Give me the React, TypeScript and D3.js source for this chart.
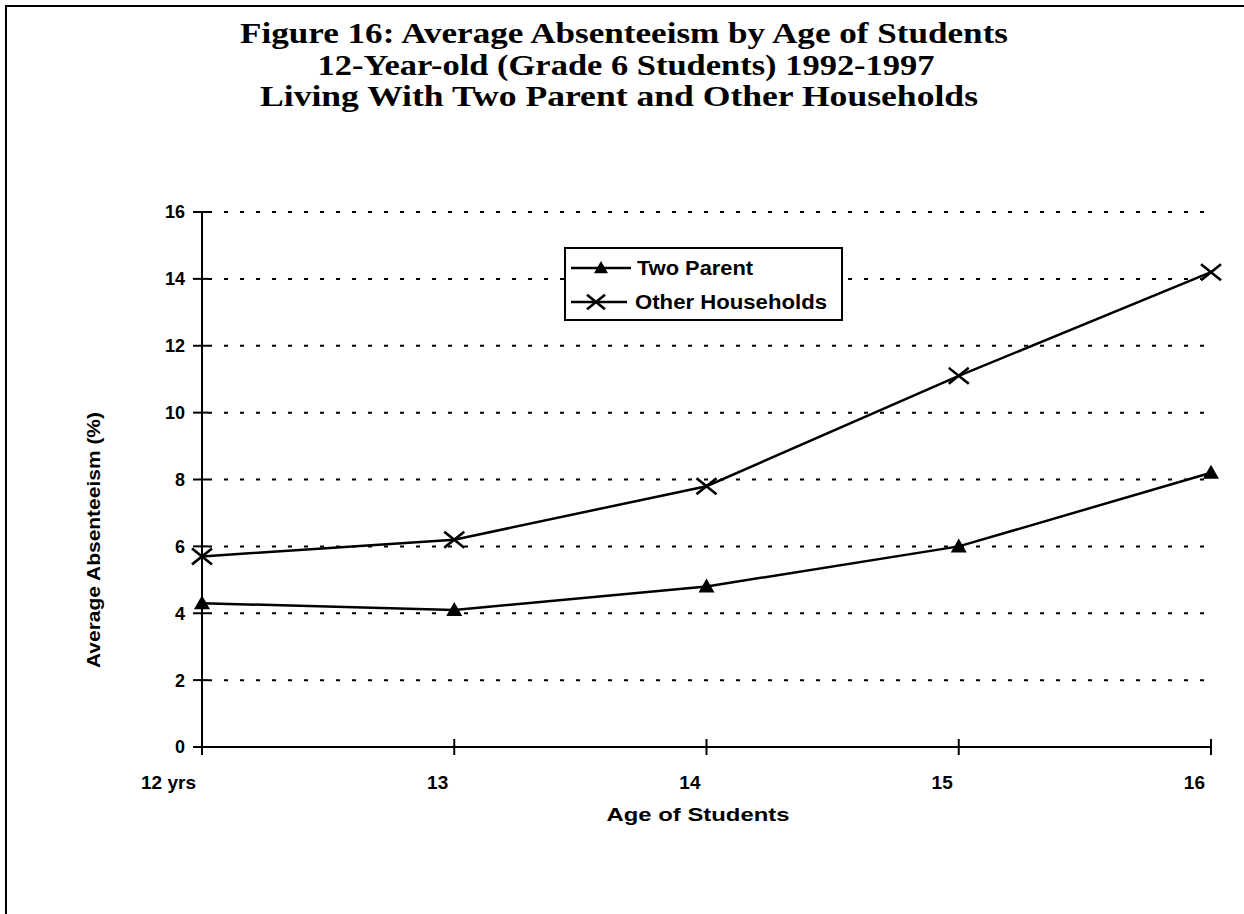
import React from "react";
import * as d3 from "d3";

// Age categories along the x axis
const ages = ["12 yrs", "13", "14", "15", "16"];
// Average absenteeism (%) per age
const twoParent = [4.3, 4.1, 4.8, 6.0, 8.2];
const otherHouseholds = [5.7, 6.2, 7.8, 11.1, 14.2];
// Y axis ticks
const yTicks = [0, 2, 4, 6, 8, 10, 12, 14, 16];
const titleLines = [
  "Figure 16: Average Absenteeism by Age of Students",
  "12-Year-old (Grade 6 Students) 1992-1997",
  "Living With Two Parent and Other Households",
];
const seriesNames = ["Two Parent", "Other Households"];

const W = 1244;
const H = 914;
const plot = { left: 202, right: 1211, top: 212, bottom: 747 };
const sans = "'Liberation Sans', Arial, sans-serif";
const serif = "'Liberation Serif', 'Times New Roman', Times, serif";

const x = d3.scalePoint<string>().domain(ages).range([plot.left, plot.right]);
const y = d3.scaleLinear().domain([0, 16]).range([plot.bottom, plot.top]);

const line = d3
  .line<number>()
  .x((_, i) => x(ages[i]) as number)
  .y((d) => y(d));

function Triangle({ cx, cy, s = 8 }: { cx: number; cy: number; s?: number }) {
  const p = d3.path();
  p.moveTo(cx, cy - s);
  p.lineTo(cx + s, cy + s * 0.75);
  p.lineTo(cx - s, cy + s * 0.75);
  p.closePath();
  return <path d={p.toString()} fill="#000" />;
}

function Cross({ cx, cy, s = 9 }: { cx: number; cy: number; s?: number }) {
  return (
    <g stroke="#000" strokeWidth={2.6} strokeLinecap="square">
      <line x1={cx - s} y1={cy - s * 0.8} x2={cx + s} y2={cy + s * 0.8} />
      <line x1={cx - s} y1={cy + s * 0.8} x2={cx + s} y2={cy - s * 0.8} />
    </g>
  );
}

export default function App() {
  const titleX = [624, 626, 619];
  const titleWidths = [768, 617, 718];
  const titleY = [43, 75, 106];
  return (
    <svg
      width={W}
      height={H}
      style={{ position: "absolute", left: 0, top: 0, background: "#fff" }}
    >
      <rect width={W} height={H} fill="#fff" />
      {/* page frame */}
      <path d={`M6,${H} L6,6 L${W},6`} fill="none" stroke="#000" strokeWidth={2} />

      {/* title */}
      {titleLines.map((t, i) => (
        <text
          key={t}
          x={titleX[i]}
          y={titleY[i]}
          textAnchor="middle"
          fontFamily={serif}
          fontWeight="bold"
          fontSize={30}
          textLength={titleWidths[i]}
          lengthAdjust="spacingAndGlyphs"
        >
          {t}
        </text>
      ))}

      {/* gridlines */}
      {yTicks.slice(1).map((t) => (
        <line
          key={t}
          x1={plot.left + 6}
          x2={plot.right - 3}
          y1={y(t)}
          y2={y(t)}
          stroke="#000"
          strokeWidth={2}
          strokeDasharray="4 12"
        />
      ))}

      {/* axes */}
      <line x1={plot.left} x2={plot.left} y1={plot.top} y2={plot.bottom} stroke="#000" strokeWidth={2} />
      <line x1={plot.left} x2={plot.right} y1={plot.bottom} y2={plot.bottom} stroke="#000" strokeWidth={2} />
      {yTicks.map((t) => (
        <g key={t}>
          <line x1={plot.left - 9} x2={plot.left + 6} y1={y(t)} y2={y(t)} stroke="#000" strokeWidth={2} />
          <text
            x={plot.left - 17}
            y={y(t)}
            dy="0.36em"
            textAnchor="end"
            fontFamily={sans}
            fontWeight="bold"
            fontSize={18}
          >
            {t}
          </text>
        </g>
      ))}
      {ages.map((a) => (
        <g key={a}>
          <line
            x1={x(a)}
            x2={x(a)}
            y1={plot.bottom - 8}
            y2={plot.bottom + 8}
            stroke="#000"
            strokeWidth={2}
          />
          <text
            x={(x(a) as number) - 6}
            y={789}
            textAnchor="end"
            fontFamily={sans}
            fontWeight="bold"
            fontSize={19}
          >
            {a}
          </text>
        </g>
      ))}
      <text
        x={698}
        y={821}
        textAnchor="middle"
        fontFamily={sans}
        fontWeight="bold"
        fontSize={18}
        textLength={183}
        lengthAdjust="spacingAndGlyphs"
      >
        Age of Students
      </text>
      <text
        transform={`translate(100,540) rotate(-90)`}
        textAnchor="middle"
        fontFamily={sans}
        fontWeight="bold"
        fontSize={19}
        textLength={256}
        lengthAdjust="spacingAndGlyphs"
      >
        Average Absenteeism (%)
      </text>

      {/* series */}
      <path d={line(twoParent) ?? ""} fill="none" stroke="#000" strokeWidth={2.5} />
      <path d={line(otherHouseholds) ?? ""} fill="none" stroke="#000" strokeWidth={2.5} />
      {twoParent.map((v, i) => (
        <Triangle key={i} cx={x(ages[i]) as number} cy={y(v)} />
      ))}
      {otherHouseholds.map((v, i) => (
        <Cross key={i} cx={x(ages[i]) as number} cy={y(v)} />
      ))}

      {/* legend */}
      <rect x={565} y={248} width={277} height={72} fill="#fff" stroke="#000" strokeWidth={2} />
      <line x1={571} x2={631} y1={268} y2={268} stroke="#000" strokeWidth={2.5} />
      <Triangle cx={601} cy={268} s={7} />
      <text
        x={637}
        y={268}
        dy="0.36em"
        fontFamily={sans}
        fontWeight="bold"
        fontSize={20}
        textLength={116}
        lengthAdjust="spacingAndGlyphs"
      >
        {seriesNames[0]}
      </text>
      <line x1={571} x2={627} y1={302} y2={302} stroke="#000" strokeWidth={2.5} />
      <Cross cx={596} cy={302} s={8} />
      <text
        x={635}
        y={302}
        dy="0.36em"
        fontFamily={sans}
        fontWeight="bold"
        fontSize={20}
        textLength={192}
        lengthAdjust="spacingAndGlyphs"
      >
        {seriesNames[1]}
      </text>
    </svg>
  );
}
